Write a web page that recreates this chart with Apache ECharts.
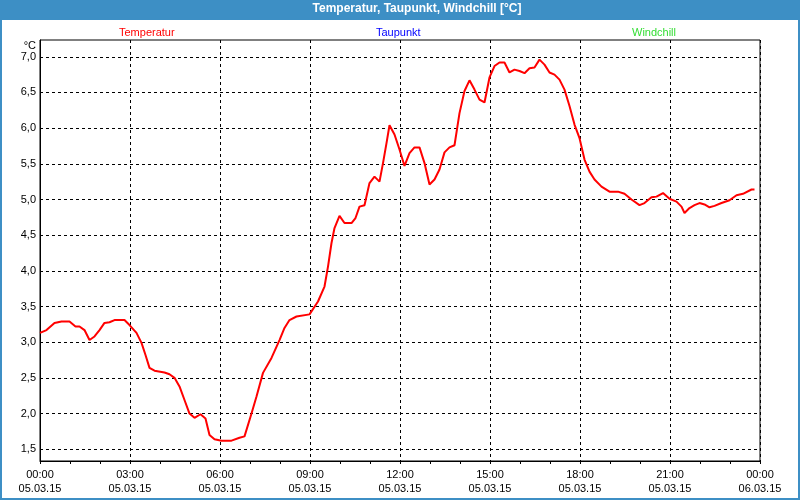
<!DOCTYPE html>
<html>
<head>
<meta charset="utf-8">
<script src="https://cdn.jsdelivr.net/npm/echarts@6/dist/echarts.min.js"></script>
<style>
html,body{margin:0;padding:0;background:#fff;}
#chart{width:800px;height:500px;}
</style>
</head>
<body>
<div id="chart"></div>
<script>
// minutes since 05.03.15 00:00
const timesMin = [0,13,29,43,59,71,79,89,99,109,119,129,139,149,169,179,193,203,211,219,229,249,259,269,279,289,299,309,321,331,339,349,363,383,399,409,423,433,446,463,479,489,499,513,539,556,569,576,583,589,599,609,623,631,639,649,659,669,679,686,693,699,709,719,729,739,749,759,769,779,789,799,809,819,829,839,849,859,869,879,889,899,909,919,929,939,949,959,969,979,989,999,1009,1019,1029,1039,1049,1059,1069,1079,1089,1099,1109,1123,1139,1156,1169,1183,1199,1209,1223,1233,1246,1259,1273,1283,1289,1299,1309,1319,1329,1339,1349,1363,1379,1393,1406,1423,1429];
const temperatur = [3.13,3.17,3.27,3.29,3.29,3.22,3.22,3.17,3.03,3.08,3.17,3.27,3.28,3.31,3.31,3.24,3.13,2.99,2.82,2.64,2.60,2.575,2.55,2.50,2.38,2.19,2.00,1.94,1.99,1.93,1.70,1.64,1.62,1.62,1.66,1.68,2.00,2.24,2.57,2.78,3.03,3.20,3.31,3.36,3.39,3.57,3.78,4.06,4.39,4.60,4.77,4.67,4.67,4.74,4.90,4.92,5.23,5.32,5.25,5.51,5.79,6.04,5.91,5.70,5.47,5.65,5.73,5.73,5.51,5.21,5.28,5.42,5.66,5.73,5.76,6.21,6.52,6.67,6.54,6.40,6.36,6.71,6.87,6.92,6.92,6.78,6.82,6.80,6.77,6.84,6.85,6.96,6.89,6.78,6.75,6.68,6.54,6.31,6.05,5.86,5.56,5.39,5.28,5.18,5.11,5.11,5.08,5.00,4.92,4.95,5.03,5.04,5.09,5.01,4.97,4.90,4.81,4.88,4.92,4.95,4.93,4.89,4.91,4.95,4.99,5.06,5.08,5.14,5.14];
const taupunkt = [];
const windchill = [];
const xTickLabels = ['00:00\n05.03.15','03:00\n05.03.15','06:00\n05.03.15','09:00\n05.03.15','12:00\n05.03.15','15:00\n05.03.15','18:00\n05.03.15','21:00\n05.03.15','00:00\n06.03.15'];
const yTickValues = [1.5,2.0,2.5,3.0,3.5,4.0,4.5,5.0,5.5,6.0,6.5,7.0];
const yTickLabels = ['1,5','2,0','2,5','3,0','3,5','4,0','4,5','5,0','5,5','6,0','6,5','7,0'];

const FONT = 'Liberation Sans';
const chart = echarts.init(document.getElementById('chart'), null, {renderer:'canvas'});

function legendAt(name, left, color){
  return {
    data:[name], left:left - 5, top:27, icon:'none', itemWidth:0, itemHeight:11, itemGap:0, padding:0,
    selectedMode:false,
    textStyle:{color:color, fontFamily:FONT, fontSize:11, padding:0}
  };
}

chart.setOption({
  animation:false,
  backgroundColor:'#ffffff',
  title:{
    text:'Temperatur, Taupunkt, Windchill [°C]',
    left:417, top:3, textAlign:'center', padding:0,
    textStyle:{color:'#ffffff', fontFamily:FONT, fontSize:12, fontWeight:'bold'}
  },
  legend:[
    legendAt('Temperatur',119,'#ff0000'),
    legendAt('Taupunkt',376,'#0000ff'),
    legendAt('Windchill',632,'#33dd33')
  ],
  grid:{left:40, right:40, top:40, bottom:39, show:true, borderColor:'#000', borderWidth:1, backgroundColor:'transparent', containLabel:false},
  graphic:[
    {type:'rect', shape:{x:0,y:0,width:800,height:20}, style:{fill:'#3d8fc5'}, z:-10, silent:true},
    {type:'rect', shape:{x:0,y:0,width:2,height:500}, style:{fill:'#3d8fc5'}, z:-10, silent:true},
    {type:'rect', shape:{x:798,y:0,width:2,height:500}, style:{fill:'#3d8fc5'}, z:-10, silent:true},
    {type:'rect', shape:{x:0,y:498,width:800,height:2}, style:{fill:'#3d8fc5'}, z:-10, silent:true},
    {type:'text', x:36, y:46, style:{text:'°C', fill:'#000', font:'11px "Liberation Sans"', align:'right', verticalAlign:'middle'}, silent:true}
  ],
  xAxis:{
    type:'value', min:0, max:1440, interval:180,
    axisLine:{show:true, lineStyle:{color:'#000', width:1}},
    axisTick:{show:true, length:3, lineStyle:{color:'#000'}},
    minorTick:{show:true, splitNumber:3, length:3, lineStyle:{color:'#000'}},
    splitLine:{show:true, lineStyle:{color:'#000', type:[3,3], width:1}},
    axisLabel:{
      margin:7, fontFamily:FONT, fontSize:11, color:'#000', lineHeight:14,
      formatter:function(v){ return xTickLabels[Math.round(v/180)] || ''; }
    }
  },
  yAxis:{
    type:'value', min:1.335, max:7.235,
    axisLine:{show:true, lineStyle:{color:'#000', width:1}},
    axisTick:{show:false, customValues:yTickValues},
    splitLine:{show:true, lineStyle:{color:'#000', type:[3,3], width:1}},
    axisLabel:{
      margin:4, fontFamily:FONT, fontSize:11, color:'#000',
      customValues:yTickValues,
      formatter:function(v){ const i = yTickValues.findIndex(t=>Math.abs(t-v)<1e-6); return i>=0 ? yTickLabels[i] : ''; }
    }
  },
  series:[
    {name:'Temperatur', type:'line', data:timesMin.map((t,i)=>[t,temperatur[i]]), showSymbol:false, symbol:'none',
     lineStyle:{color:'#ff0000', width:2}, itemStyle:{color:'#ff0000'}},
    {name:'Taupunkt', type:'line', data:taupunkt, showSymbol:false, lineStyle:{color:'#0000ff', width:2}, itemStyle:{color:'#0000ff'}},
    {name:'Windchill', type:'line', data:windchill, showSymbol:false, lineStyle:{color:'#33dd33', width:2}, itemStyle:{color:'#33dd33'}}
  ]
});
</script>
</body>
</html>
